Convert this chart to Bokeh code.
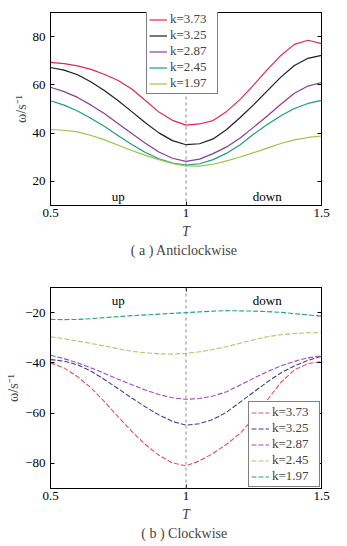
from bokeh.plotting import figure
from bokeh.models import (Legend, LegendItem, Span, Label, FixedTicker, LinearAxis,
                          Range1d, Title)
from bokeh.layouts import column
from bokeh.embed import file_html
from bokeh.resources import INLINE

# ---------------- data ----------------
T = [0.50, 0.55, 0.60, 0.65, 0.70, 0.75, 0.80, 0.85, 0.90, 0.95, 1.00,
     1.05, 1.10, 1.15, 1.20, 1.25, 1.30, 1.35, 1.40, 1.45, 1.50]

k_labels = ["k=3.73", "k=3.25", "k=2.87", "k=2.45", "k=1.97"]

# (a) Anticlockwise
ccw_373 = [69.3, 68.8, 67.9, 66.4, 64.3, 61.8, 58.3, 53.5, 48.8, 45.3, 43.3,
           43.8, 45.2, 49.0, 54.0, 60.0, 66.3, 72.2, 76.8, 78.5, 77.1]
ccw_325 = [67.2, 66.1, 64.2, 61.2, 57.6, 53.4, 48.9, 44.3, 40.1, 36.9, 35.2,
           35.6, 37.6, 41.5, 46.5, 51.8, 57.5, 63.2, 68.0, 71.0, 72.2]
ccw_287 = [59.0, 57.2, 54.8, 51.6, 48.0, 43.9, 39.8, 35.8, 32.2, 29.6, 28.3,
           29.2, 31.5, 34.3, 38.0, 42.5, 47.1, 52.0, 56.5, 59.5, 61.0]
ccw_245 = [53.4, 51.6, 49.2, 46.1, 42.7, 38.9, 35.3, 32.0, 29.4, 27.6, 26.7,
           27.3, 29.0, 31.7, 35.2, 39.6, 43.6, 47.2, 50.2, 52.3, 53.6]
ccw_197 = [41.5, 41.2, 40.5, 39.0, 37.2, 35.0, 32.8, 30.8, 29.0, 27.4, 26.4,
           26.3, 27.1, 28.5, 30.1, 31.9, 33.8, 35.7, 37.2, 38.2, 38.8]

# (b) Clockwise
cw_373 = [-40.0, -42.0, -45.5, -50.0, -55.5, -61.5, -67.3, -72.5, -76.8, -79.8, -81.0,
          -79.0, -76.0, -72.4, -68.0, -62.0, -54.8, -47.8, -42.8, -40.3, -39.5]
cw_325 = [-38.7, -39.3, -40.8, -43.3, -46.7, -50.3, -54.0, -57.5, -60.7, -63.3, -64.8,
          -64.2, -62.5, -59.6, -55.6, -51.6, -47.6, -44.0, -41.2, -39.0, -37.4]
cw_287 = [-37.0, -38.3, -40.0, -42.0, -44.2, -46.5, -48.7, -50.8, -52.6, -53.9, -54.5,
          -54.2, -53.2, -51.5, -48.8, -46.1, -43.5, -41.2, -39.4, -38.0, -37.2]
cw_245 = [-29.6, -30.4, -31.3, -32.3, -33.3, -34.4, -35.4, -36.0, -36.4, -36.5, -36.2,
          -35.6, -34.7, -33.5, -32.2, -30.8, -29.6, -28.8, -28.3, -28.0, -28.0]
cw_197 = [-22.7, -22.8, -22.7, -22.4, -22.0, -21.6, -21.2, -20.9, -20.6, -20.3, -20.0,
          -19.7, -19.4, -19.2, -19.3, -19.4, -19.6, -19.9, -20.4, -20.9, -21.4]

x_ticks = [0.5, 1, 1.5]
x_tick_labels = {0.5: "0.5", 1: "1", 1.5: "1.5"}
ccw_y_ticks = [20, 40, 60, 80]
cw_y_ticks = [-80, -60, -40, -20]
cw_y_tick_labels = {-80: "\u221280", -60: "\u221260", -40: "\u221240", -20: "\u221220"}

ccw_colors = ["#e3284e", "#1e1e1e", "#8c3a9c", "#16a07c", "#9cc444"]
cw_colors = ["#e8505e", "#3e3e92", "#a445c8", "#aac862", "#22a286"]

FONT = "'Liberation Serif', 'Times New Roman', serif"


def style_axis(ax, ticks, overrides, show_labels=True):
    ax.ticker = FixedTicker(ticks=ticks)
    ax.major_label_overrides = overrides
    ax.axis_line_color = "black"
    ax.major_tick_line_color = "black"
    ax.major_tick_in = 4
    ax.major_tick_out = 0
    ax.minor_tick_line_color = None
    ax.major_label_text_font = FONT
    ax.major_label_text_color = "black"
    if show_labels:
        ax.major_label_text_font_size = "13px"
        ax.major_label_standoff = 5
    else:
        ax.major_label_text_font_size = "0px"
        ax.major_label_standoff = 0
        ax.major_label_text_alpha = 0


def make_panel(series, colors, dash, y_lo, y_hi, y_ticks, y_over, frame_h,
               b_left, b_right, b_top, b_bottom, caption, legend_loc, up_y, up_base):
    p = figure(frame_width=271, frame_height=frame_h,
               x_range=Range1d(0.5, 1.5), y_range=Range1d(y_lo, y_hi),
               output_backend="svg", toolbar_location=None,
               min_border_left=b_left, min_border_right=b_right,
               min_border_top=b_top, min_border_bottom=b_bottom,
               background_fill_color="white", border_fill_color="white")
    p.grid.visible = False
    p.outline_line_color = "black"
    p.outline_line_width = 1

    style_axis(p.xaxis[0], x_ticks, x_tick_labels)
    style_axis(p.yaxis[0], y_ticks, y_over)
    p.xaxis[0].major_label_standoff = 3
    p.xaxis.axis_label = "T"
    p.xaxis.axis_label_text_font = FONT
    p.xaxis.axis_label_text_font_style = "italic"
    p.xaxis.axis_label_text_font_size = "14px"
    p.xaxis.axis_label_standoff = 4
    p.yaxis.axis_label = "\u03c9/s\u207b\u00b9"
    p.yaxis.axis_label_text_font = FONT
    p.yaxis.axis_label_text_font_style = "normal"
    p.yaxis.axis_label_text_font_size = "14px"
    p.yaxis.axis_label_standoff = 1

    ra = LinearAxis()
    style_axis(ra, y_ticks, {}, show_labels=False)
    p.add_layout(ra, "right")
    ta = LinearAxis()
    style_axis(ta, x_ticks, {}, show_labels=False)
    p.add_layout(ta, "above")

    p.add_layout(Span(location=1, dimension="height", line_color="#8a8a8a",
                      line_dash="3 3", line_width=1))

    items = []
    for ys, c, lab in zip(series, colors, k_labels):
        r = p.line(T, ys, line_color=c, line_width=1.2 if dash is None else 1.1,
                   line_dash=dash if dash else "solid")
        items.append(LegendItem(label=lab, renderers=[r]))

    leg = Legend(items=items, location=legend_loc, margin=1,
                 padding=2, spacing=0, glyph_width=18, glyph_height=15,
                 label_height=15, label_width=45, label_standoff=3,
                 label_text_font=FONT, label_text_font_size="13px",
                 border_line_color="black", border_line_width=1,
                 background_fill_alpha=1.0)
    p.add_layout(leg)

    for tx, txt in ((0.75, "up"), (1.30, "down")):
        p.add_layout(Label(x=tx, y=up_y, text=txt, text_align="center",
                           text_baseline=up_base, text_font=FONT,
                           text_font_size="13px", text_color="black"))

    p.add_layout(Title(text=caption, align="center", vertical_align="top",
                       text_font=FONT, text_font_size="14px",
                       text_font_style="normal", standoff=2), "below")
    return p


p1 = make_panel([ccw_373, ccw_325, ccw_287, ccw_245, ccw_197], ccw_colors, None,
                10, 90, ccw_y_ticks, {}, 193,
                50, 26, 12, 65, "( a )  Anticlockwise", (96, 111), 10.5, "bottom")
p2 = make_panel([cw_373, cw_325, cw_287, cw_245, cw_197], cw_colors, "5 2",
                -90, -10, cw_y_ticks, cw_y_tick_labels, 201,
                47, 29, 17, 58, "( b )  Clockwise", "bottom_right", -12, "top")

layout = column(p1, p2, spacing=0)
open("out.html", "w").write(file_html(layout, INLINE))
